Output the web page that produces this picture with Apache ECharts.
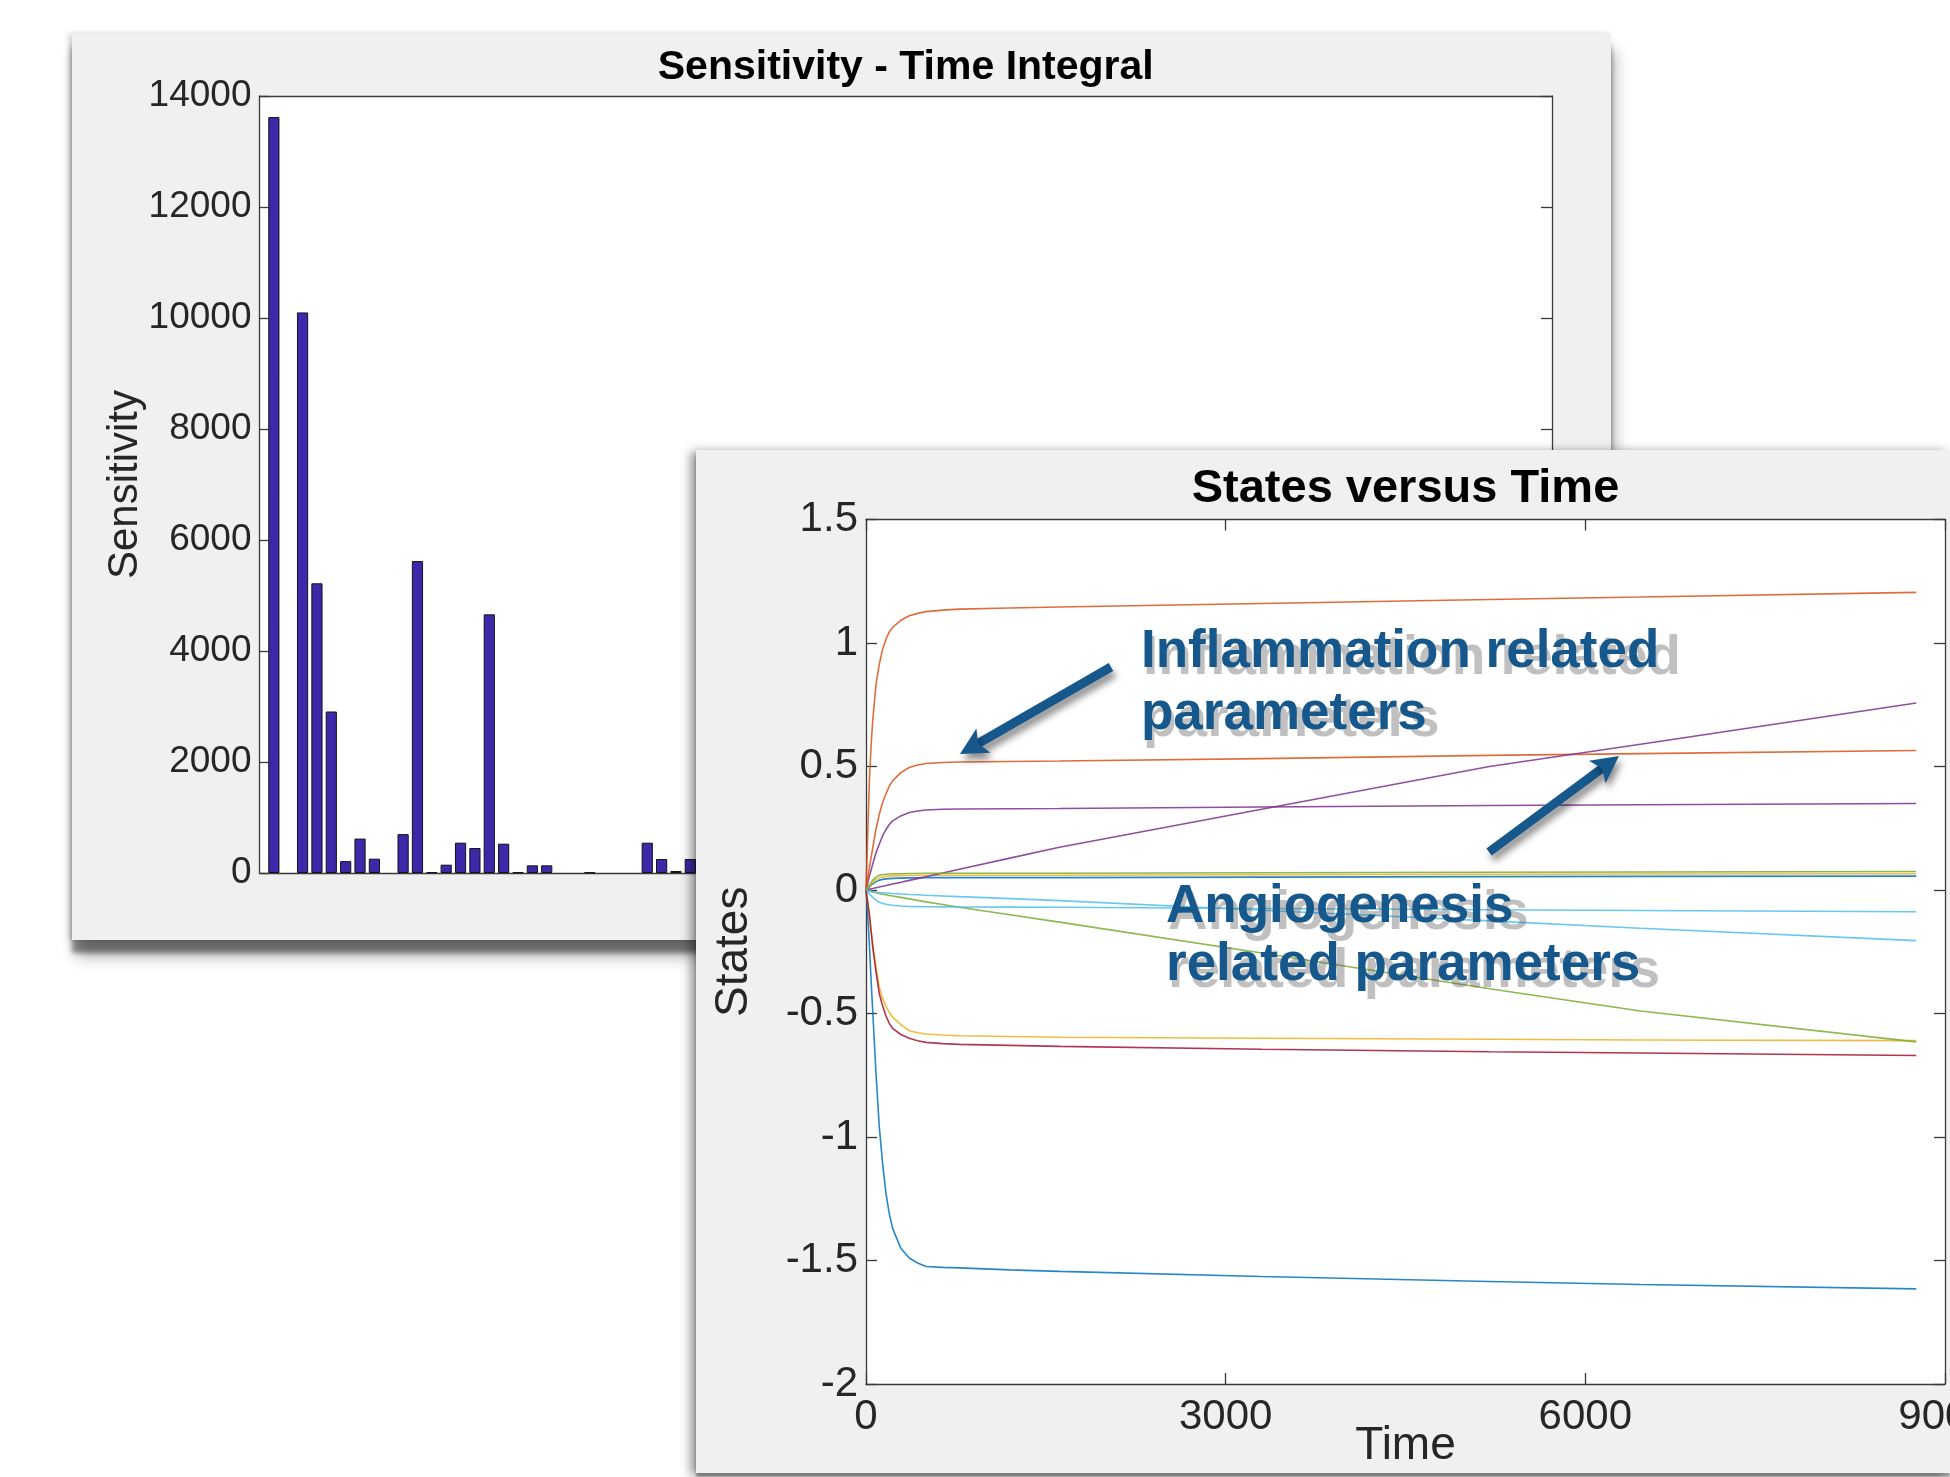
<!DOCTYPE html>
<html>
<head>
<meta charset="utf-8">
<script src="https://cdn.jsdelivr.net/npm/echarts@6/dist/echarts.min.js"></script>
<style>
  html, body { margin:0; padding:0; background:#ffffff; width:1950px; height:1477px; overflow:hidden; }
  #back { position:absolute; left:72px; top:34px; width:1539px; height:906px; background:#f0f0f0;
          box-shadow: 0 13px 5px rgba(0,0,0,0.42), 4px 17px 14px rgba(0,0,0,0.3), -3px 0 6px rgba(0,0,0,0.2); }
  #front { position:absolute; left:696px; top:450px; width:1254px; height:1023px; background:#f0f0f0;
          box-shadow: -5px 2px 10px rgba(0,0,0,0.45), 0 4px 2px rgba(0,0,0,0.35); }
</style>
</head>
<body>
<div id="back"></div>
<div id="front"></div>
<script>
// ---------------- Data: Sensitivity - Time Integral ----------------
const backTitle = 'Sensitivity - Time Integral';
const backYName = 'Sensitivity';
const sensTicks = [0, 2000, 4000, 6000, 8000, 10000, 12000, 14000];
// parameter index (1-based) and value; parameters beyond 30 are hidden by the front window
const sensIndex  = [1, 2, 3, 4, 5, 6, 7, 8, 9, 10, 11, 12, 13, 14, 15, 16, 17, 18, 19, 20, 21, 22, 23, 24, 25, 26, 27, 28, 29, 30];
const sensValues = [13620, 0, 10100, 5220, 2910, 214, 620, 258, 0, 700, 5620, 15, 150, 546, 450, 4660, 528, 15, 138, 138, 0, 0, 10, 0, 0, 0, 546, 252, 36, 252];

// ---------------- Data: States versus Time ----------------
const frontTitle = 'States versus Time';
const timeTicks = [0, 3000, 6000, 9000];
const stateTicks = [-2, -1.5, -1, -0.5, 0, 0.5, 1, 1.5];
const timeHours  = [0, 14, 28, 42, 56, 83, 111, 139, 167, 194, 222, 290, 361, 430, 500, 640, 779, 1200, 1613, 3300, 5200, 6460, 8760];
const blueDown   = [0, -0.10, -0.22, -0.36, -0.49, -0.74, -0.96, -1.11, -1.23, -1.31, -1.37, -1.45, -1.49, -1.51, -1.524, -1.528, -1.53, -1.538, -1.544, -1.565, -1.585, -1.597, -1.615];
const orangeTop  = [0, 0.22, 0.44, 0.58, 0.685, 0.83, 0.914, 0.975, 1.015, 1.045, 1.063, 1.092, 1.11, 1.12, 1.127, 1.133, 1.137, 1.142, 1.146, 1.16, 1.176, 1.186, 1.205];
const orangeMid  = [0, 0.045, 0.09, 0.13, 0.17, 0.245, 0.307, 0.355, 0.39, 0.42, 0.442, 0.475, 0.496, 0.506, 0.512, 0.516, 0.518, 0.52, 0.522, 0.532, 0.545, 0.552, 0.565];
const purpleFlat = [0, 0.027, 0.055, 0.08, 0.105, 0.15, 0.186, 0.22, 0.245, 0.265, 0.28, 0.30, 0.314, 0.32, 0.324, 0.327, 0.328, 0.329, 0.33, 0.336, 0.342, 0.345, 0.35];
const purpleRise = [0, 0.0015, 0.003, 0.0045, 0.006, 0.009, 0.012, 0.015, 0.018, 0.021, 0.024, 0.031, 0.039, 0.046, 0.054, 0.069, 0.084, 0.129, 0.173, 0.327, 0.50, 0.59, 0.757];
const greenUp    = [0, 0.01, 0.02, 0.03, 0.04, 0.052, 0.06, 0.063, 0.064, 0.065, 0.066, 0.066, 0.067, 0.067, 0.068, 0.068, 0.068, 0.068, 0.068, 0.07, 0.072, 0.073, 0.075];
const yellowUp   = [0, 0.0075, 0.015, 0.023, 0.03, 0.042, 0.05, 0.053, 0.055, 0.056, 0.057, 0.058, 0.059, 0.059, 0.06, 0.06, 0.06, 0.06, 0.06, 0.062, 0.064, 0.065, 0.066];
const blueUp     = [0, 0.006, 0.012, 0.018, 0.025, 0.033, 0.04, 0.043, 0.045, 0.046, 0.047, 0.048, 0.049, 0.049, 0.05, 0.05, 0.05, 0.05, 0.05, 0.052, 0.054, 0.055, 0.056];
const cyanFlat   = [0, -0.008, -0.015, -0.023, -0.03, -0.041, -0.05, -0.055, -0.058, -0.06, -0.062, -0.065, -0.067, -0.0675, -0.068, -0.0685, -0.069, -0.0695, -0.07, -0.075, -0.08, -0.083, -0.088];
const cyanFall   = [0, -0.0015, -0.003, -0.0045, -0.006, -0.008, -0.01, -0.011, -0.012, -0.013, -0.014, -0.016, -0.018, -0.019, -0.021, -0.024, -0.027, -0.035, -0.043, -0.082, -0.125, -0.155, -0.205];
const greenFall  = [0, -0.002, -0.004, -0.006, -0.008, -0.011, -0.014, -0.017, -0.019, -0.022, -0.024, -0.03, -0.036, -0.042, -0.048, -0.059, -0.07, -0.10, -0.13, -0.255, -0.40, -0.49, -0.615];
const yellowDown = [0, -0.05, -0.10, -0.16, -0.218, -0.31, -0.394, -0.44, -0.47, -0.495, -0.515, -0.545, -0.57, -0.578, -0.583, -0.587, -0.59, -0.593, -0.596, -0.60, -0.604, -0.607, -0.61];
const redDown    = [0, -0.05, -0.10, -0.165, -0.23, -0.33, -0.42, -0.47, -0.51, -0.54, -0.56, -0.585, -0.60, -0.61, -0.617, -0.622, -0.625, -0.629, -0.633, -0.645, -0.655, -0.66, -0.67];

const FONT = '"Liberation Sans", Arial, Helvetica, sans-serif';
const AXC = '#262626';

// ---------------- Back chart ----------------
const back = echarts.init(document.getElementById('back'), null, {renderer:'canvas'});
const bGrid = {left:187.5, top:62, width:1292.5, height:777};
const axisLineStyle = {color:'#3a3a3a', width:1.3};
back.setOption({
  animation:false,
  textStyle:{fontFamily:FONT},
  title:{text:backTitle, left:bGrid.left + bGrid.width/2, top:34 - 20.5, textAlign:'center', padding:0,
         textStyle:{fontSize:41, fontWeight:'bold', color:'#000', fontFamily:FONT}},
  grid:{left:bGrid.left, top:bGrid.top, width:bGrid.width, height:bGrid.height, show:true, backgroundColor:'#fff', borderWidth:0,
        containLabel:false, outerBoundsMode:'none'},
  xAxis:[
    {type:'value', min:0, max:90, position:'bottom', axisLine:{show:true, onZero:false, lineStyle:axisLineStyle},
     axisTick:{show:false}, axisLabel:{show:false}, splitLine:{show:false}},
    {type:'value', min:0, max:90, position:'top', axisLine:{show:true, onZero:false, lineStyle:axisLineStyle},
     axisTick:{show:false}, axisLabel:{show:false}, splitLine:{show:false}}
  ],
  yAxis:[
    {type:'value', min:sensTicks[0], max:sensTicks[sensTicks.length-1], interval:2000, position:'left',
     axisLine:{show:true, onZero:false, lineStyle:axisLineStyle},
     axisTick:{show:true, inside:true, length:9, lineStyle:axisLineStyle},
     axisLabel:{fontSize:37, color:AXC, margin:8, fontFamily:FONT, formatter:v=>String(v)},
     splitLine:{show:false},
     name:backYName, nameLocation:'middle', nameGap:113, nameRotate:90, nameMoveOverlap:false,
     nameTextStyle:{fontSize:42, color:AXC, fontFamily:FONT}},
    {type:'value', min:sensTicks[0], max:sensTicks[sensTicks.length-1], interval:2000, position:'right',
     axisLine:{show:true, onZero:false, lineStyle:axisLineStyle},
     axisTick:{show:true, inside:true, length:11, lineStyle:axisLineStyle},
     axisLabel:{show:false}, splitLine:{show:false}}
  ],
  series:[{
    type:'bar', xAxisIndex:0, yAxisIndex:0,
    data: sensIndex.map((k,i)=>[k, sensValues[i]]).filter(d => d[1] > 0),
    barWidth:11.2,
    itemStyle:{color:'#3c28a9', borderColor:'#141414', borderWidth:1}
  }]
});

// ---------------- Front chart ----------------
const front = echarts.init(document.getElementById('front'), null, {renderer:'canvas'});
const fGrid = {left:170, top:69.5, width:1079, height:864.5};
const C = {blue:'#0072BD', orange:'#D95319', yellow:'#EDB120', purple:'#7E2F8E', green:'#77AC30', cyan:'#4DBEEE', red:'#A2142F'};
const lines = [
  ['blueDown', blueDown, C.blue],
  ['orangeTop', orangeTop, C.orange],
  ['yellowDown', yellowDown, C.yellow],
  ['purpleFlat', purpleFlat, C.purple],
  ['greenFall', greenFall, C.green],
  ['cyanFlat', cyanFlat, C.cyan],
  ['redDown', redDown, C.red],
  ['blueUp', blueUp, C.blue],
  ['orangeMid', orangeMid, C.orange],
  ['yellowUp', yellowUp, C.yellow],
  ['purpleRise', purpleRise, C.purple],
  ['greenUp', greenUp, C.green],
  ['cyanFall', cyanFall, C.cyan]
];

const ANN = '#16588c';
function arrowElems(x0, y0, x1, y1){
  const dx = x1-x0, dy = y1-y0, L = Math.hypot(dx,dy), ux = dx/L, uy = dy/L, px = -uy, py = ux;
  const headLen = 27, headHalf = 14, notch = 21;
  const bx = x1-ux*headLen, by = y1-uy*headLen, nx = x1-ux*notch, ny = y1-uy*notch;
  const sh = {shadowBlur:7, shadowColor:'rgba(0,0,0,0.45)', shadowOffsetX:3, shadowOffsetY:6};
  return [
    {type:'line', z:100, shape:{x1:x0, y1:y0, x2:nx, y2:ny}, style:Object.assign({stroke:ANN, lineWidth:9, lineCap:'butt'}, sh)},
    {type:'polygon', z:101, shape:{points:[[x1,y1],[bx+px*headHalf,by+py*headHalf],[nx,ny],[bx-px*headHalf,by-py*headHalf]]},
     style:Object.assign({fill:ANN}, sh)}
  ];
}
function annText(str, x, y){
  return [
    // soft, slightly enlarged drop shadow
    {type:'text', z:98, x:x + 2, y:y + 7, style:{text:str, fontSize:55, fontWeight:'bold', fontFamily:FONT,
      fill:'rgba(90,90,90,0.38)', textAlign:'left', textVerticalAlign:'middle', verticalAlign:'middle',
      shadowBlur:6, shadowColor:'rgba(60,60,60,0.85)', shadowOffsetX:0, shadowOffsetY:0}},
    {type:'text', z:102, x:x, y:y, style:{text:str, fontSize:53, fontWeight:'bold', fontFamily:FONT,
      fill:ANN, textAlign:'left', textVerticalAlign:'middle', verticalAlign:'middle'}}
  ];
}
const annotations = [].concat(
  annText('Inflammation related', 445, 202),
  annText('parameters', 445, 264),
  annText('Angiogenesis', 470, 457),
  annText('related parameters', 470, 515),
  arrowElems(415, 217, 264, 304),
  arrowElems(793, 402, 923, 306)
);

const fAxisLine = {color:'#3a3a3a', width:1.3};
front.setOption({
  animation:false,
  textStyle:{fontFamily:FONT},
  title:{text:frontTitle, left:fGrid.left + fGrid.width/2, top:39 - 23.5, textAlign:'center', padding:0,
         textStyle:{fontSize:47, fontWeight:'bold', color:'#000', fontFamily:FONT}},
  grid:{left:fGrid.left, top:fGrid.top, width:fGrid.width, height:fGrid.height, show:true, backgroundColor:'#fff', borderWidth:0,
        containLabel:false, outerBoundsMode:'none'},
  xAxis:[
    {type:'value', min:timeTicks[0], max:timeTicks[timeTicks.length-1], interval:3000, position:'bottom',
     axisLine:{show:true, onZero:false, lineStyle:fAxisLine},
     axisTick:{show:true, inside:true, length:11, lineStyle:fAxisLine},
     axisLabel:{fontSize:42, color:AXC, margin:12, fontFamily:FONT, formatter:v=>String(v), showMaxLabel:true, hideOverlap:false},
     splitLine:{show:false},
     name:'Time', nameLocation:'middle', nameGap:39, nameMoveOverlap:false,
     nameTextStyle:{fontSize:46, color:AXC, fontFamily:FONT}},
    {type:'value', min:timeTicks[0], max:timeTicks[timeTicks.length-1], interval:3000, position:'top',
     axisLine:{show:true, onZero:false, lineStyle:fAxisLine},
     axisTick:{show:true, inside:true, length:11, lineStyle:fAxisLine},
     axisLabel:{show:false}, splitLine:{show:false}}
  ],
  yAxis:[
    {type:'value', min:stateTicks[0], max:stateTicks[stateTicks.length-1], interval:0.5, position:'left',
     axisLine:{show:true, onZero:false, lineStyle:fAxisLine},
     axisTick:{show:true, inside:true, length:11, lineStyle:fAxisLine},
     axisLabel:{fontSize:42, color:AXC, margin:8, fontFamily:FONT, formatter:v=>String(v)},
     splitLine:{show:false},
     name:'States', nameLocation:'middle', nameGap:109, nameRotate:90, nameMoveOverlap:false,
     nameTextStyle:{fontSize:46, color:AXC, fontFamily:FONT}},
    {type:'value', min:stateTicks[0], max:stateTicks[stateTicks.length-1], interval:0.5, position:'right',
     axisLine:{show:true, onZero:false, lineStyle:fAxisLine},
     axisTick:{show:true, inside:true, length:11, lineStyle:fAxisLine},
     axisLabel:{show:false}, splitLine:{show:false}}
  ],
  series: lines.map(([name, vals, col]) => ({
    name, type:'line', xAxisIndex:0, yAxisIndex:0, showSymbol:false, symbol:'none',
    smooth:false,
    lineStyle:{color:col, width:1.6, opacity:0.85},
    data: timeHours.map((t,i)=>[t, vals[i]])
  })),
  graphic: annotations
});
</script>
</body>
</html>
